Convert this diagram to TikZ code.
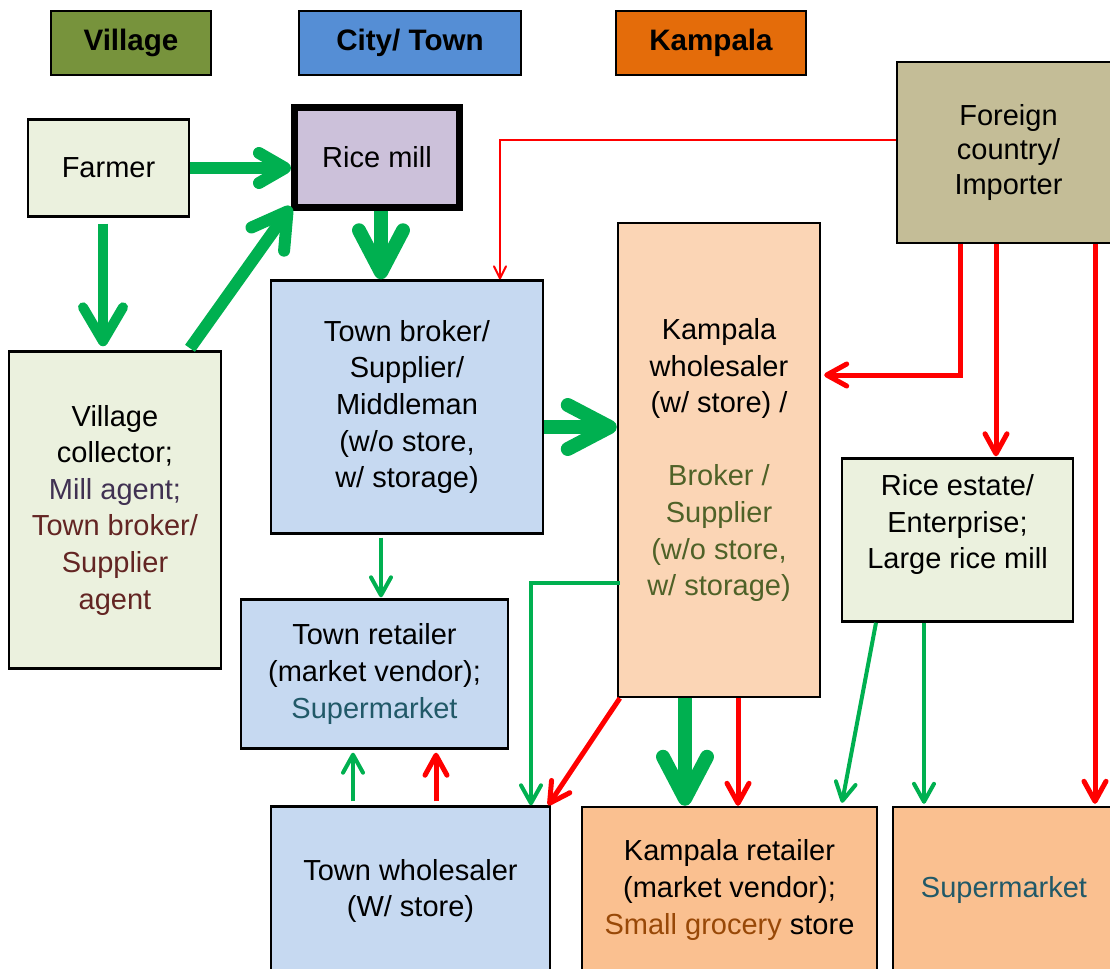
\documentclass[tikz,border=0pt]{standalone}
\usepackage{fontspec}
\setmainfont{Liberation Sans}
\usetikzlibrary{positioning,calc,arrows.meta}
\definecolor{villagecolor}{HTML}{77933C}
\definecolor{towncolor}{HTML}{558ED5}
\definecolor{kampalacolor}{HTML}{E46C0A}
\definecolor{palegreen}{HTML}{EBF1DE}
\definecolor{paleblue}{HTML}{C6D9F1}
\definecolor{paleorange}{HTML}{FBD5B5}
\definecolor{retailorange}{HTML}{FAC090}
\definecolor{millcolor}{HTML}{CCC1DA}
\definecolor{foreigncolor}{HTML}{C4BD97}
\definecolor{flowgreen}{HTML}{00B050}
\definecolor{flowred}{HTML}{FF0000}
\definecolor{agentpurple}{HTML}{403152}
\definecolor{agentred}{HTML}{632523}
\definecolor{marketteal}{HTML}{215968}
\definecolor{brokerolive}{HTML}{4F6228}
\definecolor{grocerybrown}{HTML}{984807}
\begin{document}
\begin{tikzpicture}[x=0.5pt, y=-0.5pt,
    box/.style={draw, line width=1.2pt, align=center, inner sep=1pt,
      font=\fontsize{14.5}{18.3}\selectfont},
    header/.style={draw, line width=1pt, minimum width=#1, minimum height=32pt,
      font=\bfseries\fontsize{14.8}{17}\selectfont},
    green flow/.style={draw=flowgreen, line width=#1},
    red flow/.style={draw=flowred, line width=#1},
    barb/.style 2 args={-{Straight Barb[length=#1, width=#2, round]}}]
  \useasboundingbox (0,0) rectangle (1110,969);

  % legend: where the actors sit
  \node[header=80pt, fill=villagecolor] (village) at (131,43) {Village};
  \node[header=111pt, fill=towncolor] (town) at (410,43) {City/ Town};
  \node[header=95pt, fill=kampalacolor] (kampala) at (711,43) {Kampala};

  % actors
  \node[box, fill=palegreen, minimum width=80.5pt, minimum height=48.5pt] (farmer) at (108.5,168) {Farmer};
  \node[box, fill=millcolor, line width=3.5pt, minimum width=82.5pt, minimum height=50pt] (ricemill) at (377,157) {Rice mill};
  \node[box, fill=palegreen, minimum width=106pt, minimum height=158.5pt] (vcoll) at (115,510)
    {Village\\collector;\\\textcolor{agentpurple}{Mill agent;}\\\textcolor{agentred}{Town broker/}\\\textcolor{agentred}{Supplier}\\\textcolor{agentred}{agent}};
  \node[box, fill=paleblue, minimum width=136pt, minimum height=126.5pt] (tbroker) at (407,407)
    {Town broker/\\Supplier/\\Middleman\\(w/o store,\\w/ storage)};
  \node[box, fill=paleorange, minimum width=101pt, minimum height=237pt] (kwhole) at (719,460)
    {Kampala\\wholesaler\\(w/ store) /\\[18.3pt]\textcolor{brokerolive}{Broker /}\\\textcolor{brokerolive}{Supplier}\\\textcolor{brokerolive}{(w/o store,}\\\textcolor{brokerolive}{w/ storage)}};
  \node[box, fill=foreigncolor, minimum width=111.5pt, minimum height=90.5pt,
    font=\fontsize{14.5}{17.5}\selectfont] (foreign) at (1008.5,152.5) {Foreign\\country/\\Importer};
  \node[box, fill=palegreen, minimum width=115.5pt, minimum height=81.5pt] (restate) at (957.5,540)
    {Rice estate/\\Enterprise;\\Large rice mill\\\mbox{}};
  \node[box, fill=paleblue, minimum width=133.5pt, minimum height=74.5pt] (tretail) at (374.5,674)
    {Town retailer\\(market vendor);\\\textcolor{marketteal}{Supermarket}};
  \node[box, fill=paleblue, minimum width=139.5pt, minimum height=84.5pt] (twhole) at (410.5,891)
    {Town wholesaler\\(W/ store)};
  \node[box, fill=retailorange, minimum width=147.5pt, minimum height=83pt] (kretail) at (729.5,890)
    {Kampala retailer\\(market vendor);\\\textcolor{grocerybrown}{Small grocery} store};
  \node[box, fill=retailorange, minimum width=111pt, minimum height=83pt] (smarket) at (1004,890)
    {\textcolor{marketteal}{Supermarket}};

  % domestic rice (green)
  \draw[green flow=6pt, barb={13pt}{15pt}] (farmer.east) -- (farmer.east -| ricemill.west);
  \draw[green flow=5pt, barb={17pt}{20pt}] ($(farmer.south)+(-5.5,6)$) -- ($(vcoll.north)+(-12,-4)$);
  \draw[green flow=6pt, barb={17pt}{20pt}] ($(vcoll.north)+(75,-2)$) -- ($(ricemill.south west)+(0,-4)$);
  \draw[green flow=7pt, barb={21pt}{22pt}] ($(ricemill.south)+(4,0)$) -- ($(tbroker.north)+(-26,0)$);
  \draw[green flow=7pt, barb={21pt}{22pt}] ($(tbroker.east)+(0,20)$) -- ($(kwhole.west)+(0,-33)$);
  \draw[green flow=2pt, barb={9pt}{10pt}] ($(tbroker.south)+(-26,3)$) -- ($(tretail.north)+(6.5,-1)$);
  \draw[green flow=2pt, barb={9pt}{10pt}] ($(kwhole.west)+(3,123)$) -| ($(twhole.north)+(120.5,0)$);
  \draw[green flow=2pt, barb={9pt}{10pt}] ($(twhole.north)+(-57.5,-4)$) -- ($(tretail.south)+(-21.5,3)$);
  \draw[green flow=7pt, barb={21pt}{22pt}] ($(kwhole.south)+(-34,0)$) -- ($(kretail.north)+(-44.5,0)$);
  \draw[green flow=2pt, barb={9pt}{10pt}] ($(restate.south)+(-81.5,0)$) -- ($(kretail.north)+(112.5,-3)$);
  \draw[green flow=2pt, barb={9pt}{10pt}] ($(restate.south)+(-33.5,0)$) -- ($(smarket.north)+(-80,-2)$);

  % imported rice (red)
  \draw[red flow=1pt, barb={6pt}{6pt}] ($(foreign.west)+(0,-12.5)$) -| ($(tbroker.north)+(93,0)$);
  \draw[red flow=2.5pt, barb={10pt}{11pt}] ($(foreign.south)+(-48.5,0)$) |- ($(kwhole.east)+(3,-85)$);
  \draw[red flow=2.5pt, barb={10pt}{11pt}] ($(foreign.south)+(-12.5,0)$) -- ($(restate.north)+(38.5,-1)$);
  \draw[red flow=2.5pt, barb={10pt}{11pt}] ($(foreign.south)+(86.5,0)$) -- ($(smarket.north)+(91,-2)$);
  \draw[red flow=2.5pt, barb={10pt}{11pt}] ($(kwhole.south west)+(3,0)$) -- ($(twhole.north east)+(-3,0)$);
  \draw[red flow=2.5pt, barb={10pt}{11pt}] ($(kwhole.south)+(19,0)$) -- ($(kretail.north)+(8.5,0)$);
  \draw[red flow=2.5pt, barb={10pt}{11pt}] ($(twhole.north)+(25.5,-4)$) -- ($(tretail.south)+(61.5,3)$);
\end{tikzpicture}
\end{document}
